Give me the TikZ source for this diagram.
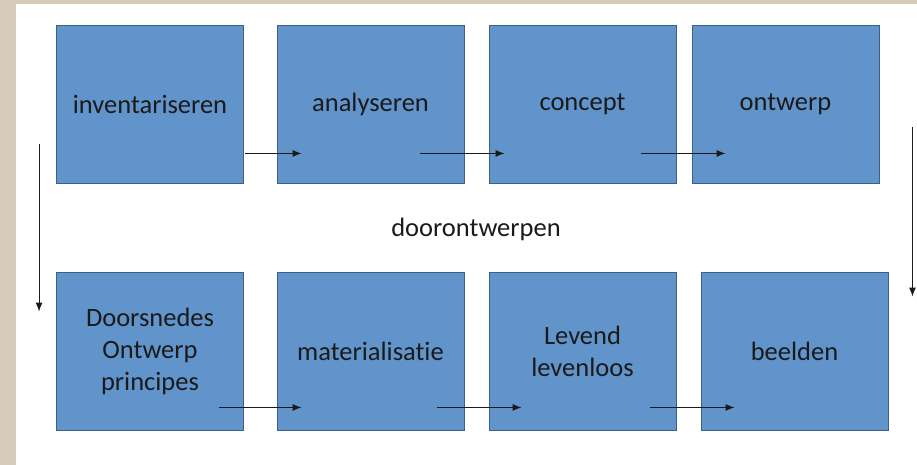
\documentclass[tikz,border=0pt]{standalone}
\usepackage{fontspec}
\setmainfont{Carlito}[Ligatures={NoCommon}]
\usetikzlibrary{arrows.meta}

\definecolor{frame}{HTML}{D6CABA}
\definecolor{boxblue}{HTML}{6194CB}
\definecolor{boxline}{HTML}{3E5F86}
\definecolor{ink}{HTML}{1A1A1A}

\tikzset{
    stepbox/.style={draw=boxline, line width=0.9pt, fill=boxblue, minimum width=187pt,
        minimum height=158pt, inner sep=0pt, align=center, text=ink,
        font=\fontsize{26.5}{32}\selectfont},
    arr/.style={-{Latex[length=9pt,width=7pt]}, line width=1pt, draw=ink}
}

\begin{document}
\begin{tikzpicture}[x=1pt,y=-1pt]
    % Frame and background
    \fill[frame] (0,0) rectangle (917,465);
    \fill[white] (16,4) rectangle (917,465);
    \useasboundingbox (0,0) rectangle (917,465);

    % Top row
    \node[stepbox] (inv) at (150,104) {inventariseren};
    \node[stepbox] (ana) at (370.5,104) {analyseren};
    \node[stepbox] (con) at (582.5,104) {concept};
    \node[stepbox] (ont) at (785.5,104) {ontwerp};

    % Middle label
    \node[text=ink, font=\fontsize{26.5}{32}\selectfont] (door) at (476,229) {doorontwerpen};

    % Bottom row
    \node[stepbox] (doo) at (150,351) {Doorsnedes\\Ontwerp\\principes};
    \node[stepbox] (mat) at (370.5,351) {materialisatie};
    \node[stepbox] (lev) at (582.5,351) {Levend\\levenloos};
    \node[stepbox] (bee) at (794.5,351) {beelden};

    % Arrows in the top row
    \draw[arr] ([xshift=1,yshift=30]inv.south east) -- ([xshift=25,yshift=30]ana.south west);
    \draw[arr] ([xshift=-44,yshift=30]ana.south east) -- ([xshift=16,yshift=30]con.south west);
    \draw[arr] ([xshift=-35,yshift=30]con.south east) -- ([xshift=34,yshift=30]ont.south west);

    % Arrows in the bottom row
    \draw[arr] ([xshift=-25,yshift=23]doo.south east) -- ([xshift=25,yshift=23]mat.south west);
    \draw[arr] ([xshift=-27,yshift=23]mat.south east) -- ([xshift=33,yshift=23]lev.south west);
    \draw[arr] ([xshift=-26,yshift=23]lev.south east) -- ([xshift=34,yshift=23]bee.south west);

    % Arrows down the sides
    \draw[arr] ([xshift=-17,yshift=39]inv.south west) -- ([xshift=-17,yshift=-40]doo.north west);
    \draw[arr] ([xshift=33,yshift=56]ont.south east) -- ([xshift=24,yshift=-25]bee.north east);
\end{tikzpicture}
\end{document}
